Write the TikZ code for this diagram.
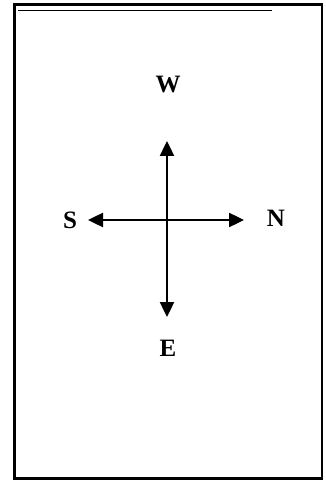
\documentclass[tikz,border=0pt]{standalone}
\usepackage{fontspec}
\setmainfont{Liberation Serif}
\usetikzlibrary{arrows.meta}
\begin{document}
\begin{tikzpicture}[x=1pt,y=-1pt,
  lbl/.style={font=\fontsize{25}{25}\selectfont\bfseries, inner sep=0pt},
  arr/.style={line width=2.4pt, -{Triangle[length=15pt,width=14pt]}}]
\useasboundingbox (0,0) rectangle (325,481);
\draw[line width=2.6pt] (14.5,4.5) rectangle (322,478.5);
\draw[line width=0.7pt] (18,10) -- (272,10);
\coordinate (c) at (167,220);
\coordinate (tw) at (167,141);
\coordinate (te) at (167,317);
\coordinate (ts) at (88,220);
\coordinate (tn) at (244,220);
\node[lbl] (W) at (168,85) {W};
\node[lbl] (S) at (70,220) {S};
\node[lbl] (N) at (276,218) {N};
\node[lbl] (E) at (168,348) {E};
\draw[arr] (c) -- (tw);
\draw[arr] (c) -- (te);
\draw[arr] (c) -- (ts);
\draw[arr] (c) -- (tn);
\end{tikzpicture}
\end{document}
